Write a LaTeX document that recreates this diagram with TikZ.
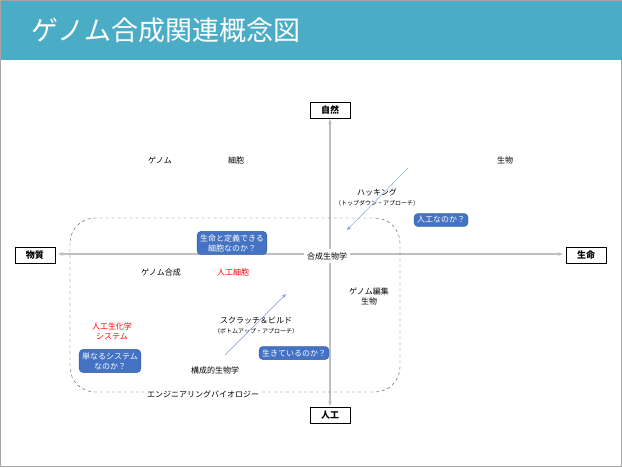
\documentclass[tikz,border=0pt]{standalone}
\usepackage{fontspec}
\setmainfont{Noto Sans CJK JP}
\usetikzlibrary{arrows.meta}
\definecolor{band}{RGB}{75,172,198}
\definecolor{qblue}{RGB}{68,114,196}
\definecolor{axis}{RGB}{191,191,191}
\tikzset{
  term/.style = {font=\fontsize{8}{10}\selectfont, align=center, inner sep=1pt},
  redterm/.style = {term, text=red},
  pole/.style = {draw=black, fill=white, font=\fontsize{9}{11}\selectfont\bfseries,
                 minimum width=40pt, minimum height=16pt, inner sep=1pt},
  question/.style = {fill=qblue, draw=qblue!80!black, rounded corners=4pt, text=white,
                     font=\fontsize{8}{10}\selectfont, align=center, inner sep=3pt},
  hint/.style = {-{Stealth[length=4pt]}, qblue!70!white, thin}
}

\begin{document}
\begin{tikzpicture}[x=1pt,y=-1pt]
	\useasboundingbox (0,0) rectangle (622,467);
	\fill[white] (0,0) rectangle (622,467);
	\draw[black!35] (0.5,0.5) rectangle (621.5,466.5);
	
	% Title band
	\fill[band] (0.5,0.5) rectangle (621.5,60);
	\node[anchor=west, text=white, font=\fontsize{27}{30}\selectfont] (title) at (28,30) {ゲノム合成関連概念図};
	
	% Poles
	\node[pole] (nature) at (330,110) {自然};
	\node[pole] (artificial) at (330,415) {人工};
	\node[pole] (matter) at (35,255) {物質};
	\node[pole] (life) at (586,255) {生命};
	
	% Axes
	\coordinate (left) at (58,254);
	\coordinate (right) at (563,254);
	\coordinate (top) at (330,119);
	\coordinate (bottom) at (330,406);
	\draw[axis, line width=1.5, {Stealth[length=5pt]}-{Stealth[length=5pt]}] (left) -- (right);
	\draw[axis, line width=1.5, {Stealth[length=5pt]}-{Stealth[length=5pt]}] (top) -- (bottom);
	
	% Engineering region
	\draw[dashed, black!70, rounded corners=25pt] (70,218) rectangle (400,392);
	\node[term, fill=white, inner sep=3pt] (eng) at (203,394) {エンジニアリングバイオロジー};
	
	% Terms
	\node[term] (genome) at (160,160) {ゲノム};
	\node[term] (cell) at (236,160) {細胞};
	\node[term] (organism) at (505,160) {生物};
	\node[term] (hacking) at (377,192) {ハッキング};
	\node[term, font=\fontsize{6}{7}\selectfont] (topdown) at (377,203) {（トップダウン・アプローチ）};
	\node[term, fill=white, inner sep=3pt] (synbio) at (327,256) {合成生物学};
	\node[term] (gsynth) at (161,272) {ゲノム合成};
	\node[redterm] (acell) at (233,272) {人工細胞};
	\node[term] (gedit) at (369,296) {ゲノム編集\\生物};
	\node[term] (scratch) at (256,320) {スクラッチ＆ビルド};
	\node[term, font=\fontsize{6}{7}\selectfont] (bottomup) at (256,331) {（ボトムアップ・アプローチ）};
	\node[redterm] (biochem) at (112,331) {人工生化学\\システム};
	\node[term] (constr) at (215,370) {構成的生物学};
	
	% Questions
	\node[question] (q1) at (441,220) {人工なのか？};
	\node[question] (q2) at (232,243) {生命と定義できる\\細胞なのか？};
	\node[question] (q3) at (110,361) {単なるシステム\\なのか？};
	\node[question] (q4) at (294,353) {生きているのか？};
	
	% Approach arrows
	\coordinate (h1) at (408,168);
	\coordinate (h2) at (347,230);
	\coordinate (s1) at (225,355);
	\coordinate (s2) at (286,294);
	\draw[hint] (h1) -- (h2);
	\draw[hint] (s1) -- (s2);
\end{tikzpicture}
\end{document}
